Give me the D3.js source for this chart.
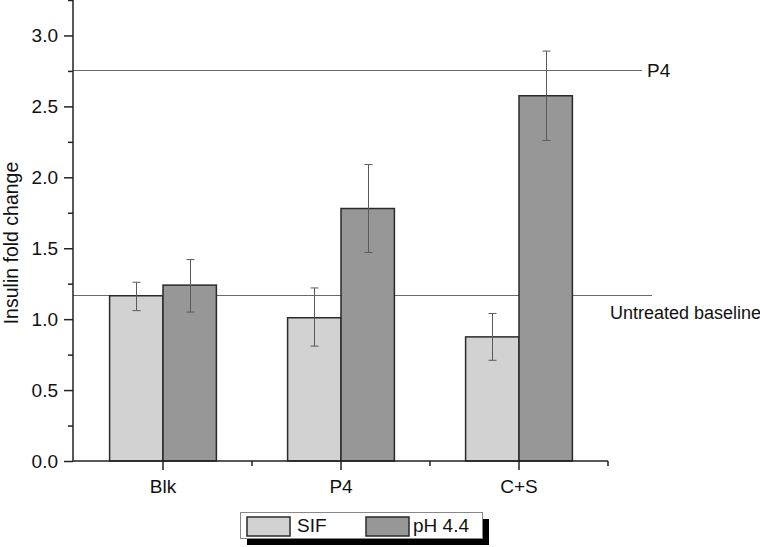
<!DOCTYPE html>
<html><head><meta charset="utf-8">
<script src="https://cdn.jsdelivr.net/npm/d3@7"></script>
<style>body{margin:0;background:#fff}svg{display:block}text{font-family:"Liberation Sans",Arial,sans-serif;fill:#111}</style>
</head><body><svg id="c" width="760" height="547"></svg>
<script>
const categories = ["Blk", "P4", "C+S"];
const seriesNames = ["SIF", "pH 4.4"];
const sifValues = [1.165, 1.01, 0.875];
const sifLow = [1.06, 0.81, 0.71];
const sifHigh = [1.26, 1.22, 1.04];
const phValues = [1.24, 1.78, 2.575];
const phLow = [1.05, 1.47, 2.26];
const phHigh = [1.42, 2.09, 2.89];
const refLines = [{label: "P4", value: 2.76}, {label: "Untreated baseline", value: 1.167}];
const yTicks = [0, 0.5, 1.0, 1.5, 2.0, 2.5, 3.0];
const yMinorTicks = [0.25, 0.75, 1.25, 1.75, 2.25, 2.75, 3.25];
const colors = ["#d2d2d2", "#979797"];

const svg = d3.select("#c");
const y = d3.scaleLinear().domain([0, 3.25]).range([461, 0]);
const x = d3.scaleBand().domain(categories).range([74, 608]).padding(0);
const barW = x.bandwidth() * 0.3;
const axisX = 73;

// reference lines
const refEnd = {"P4": 642, "Untreated baseline": 652};
svg.selectAll(".ref").data(refLines).join("line")
  .attr("x1", axisX).attr("x2", d => refEnd[d.label])
  .attr("y1", d => Math.round(y(d.value)) + 0.5).attr("y2", d => Math.round(y(d.value)) + 0.5)
  .attr("stroke", "#6a6a6a").attr("stroke-width", 1);
svg.append("text").attr("x", 647).attr("y", y(refLines[0].value) + 7)
  .attr("font-size", 19).text(refLines[0].label);
svg.append("text").attr("x", 610).attr("y", y(refLines[1].value) + 23.5)
  .attr("font-size", 18).text(refLines[1].label);

// bars
const series = [
  {vals: sifValues, lo: sifLow, hi: sifHigh, off: -1},
  {vals: phValues, lo: phLow, hi: phHigh, off: 0}
];
series.forEach((s, si) => {
  const g = svg.append("g");
  g.selectAll("rect").data(categories).join("rect")
    .attr("x", (c) => x(c) + x.bandwidth() / 2 + s.off * barW)
    .attr("y", (c, i) => y(s.vals[i]))
    .attr("width", barW)
    .attr("height", (c, i) => y(0) - y(s.vals[i]))
    .attr("fill", colors[si]).attr("stroke", "#2a2a2a").attr("stroke-width", 1.5);
});
series.forEach((s) => {
  const g = svg.append("g").attr("stroke", "#5a5a5a").attr("stroke-width", 1);
  categories.forEach((c, i) => {
    const cx = Math.round(x(c) + x.bandwidth() / 2 + s.off * barW + barW / 2) + 0.5;
    g.append("line").attr("x1", cx).attr("x2", cx).attr("y1", y(s.hi[i])).attr("y2", y(s.lo[i]));
    [s.hi[i], s.lo[i]].forEach(v => {
      g.append("line").attr("x1", cx - 4).attr("x2", cx + 4).attr("y1", y(v)).attr("y2", y(v));
    });
  });
});

// y axis
const yAxis = d3.axisLeft(y).tickValues(yTicks).tickFormat(d3.format(".1f")).tickSize(9).tickPadding(6);
const ya = svg.append("g").attr("transform", `translate(${axisX},0)`).call(yAxis);
ya.select(".domain").attr("stroke", "#222").attr("stroke-width", 1.5).attr("d", `M-0,0V${y(0)}`);
ya.selectAll(".tick line").attr("stroke", "#222").attr("stroke-width", 1.5);
ya.selectAll("text").attr("font-size", 19).attr("fill", "#111").attr("font-family", "Liberation Sans, Arial, sans-serif");
const yMinor = d3.axisLeft(y).tickValues(yMinorTicks).tickFormat("").tickSize(5);
const ym = svg.append("g").attr("transform", `translate(${axisX},0)`).call(yMinor);
ym.select(".domain").remove();
ym.selectAll(".tick line").attr("stroke", "#222").attr("stroke-width", 1.5);

// x axis
const xAxis = d3.axisBottom(x).tickSize(9).tickPadding(10);
const xa = svg.append("g").attr("transform", `translate(0,${y(0)})`).call(xAxis);
xa.select(".domain").attr("stroke", "#222").attr("stroke-width", 1.5).attr("d", `M${axisX},0H608`);
xa.selectAll(".tick line").attr("stroke", "#222").attr("stroke-width", 1.5);
xa.selectAll("text").attr("font-size", 19).attr("fill", "#111").attr("font-family", "Liberation Sans, Arial, sans-serif");
const bounds = categories.slice(1).map(c => x(c)).concat([x.range()[1]]);
svg.append("g").selectAll("line").data(bounds).join("line")
  .attr("x1", d => d).attr("x2", d => d).attr("y1", y(0)).attr("y2", y(0) + 5)
  .attr("stroke", "#222").attr("stroke-width", 1.5);

// y label
svg.append("text").attr("transform", `translate(18,243) rotate(-90)`)
  .attr("text-anchor", "middle").attr("font-size", 19.5).text("Insulin fold change");

// legend
const lg = svg.append("g");
lg.append("rect").attr("x", 247).attr("y", 519).attr("width", 242).attr("height", 26).attr("fill", "#000");
lg.append("rect").attr("x", 240.5).attr("y", 512.5).attr("width", 242).attr("height", 26).attr("fill", "#fff").attr("stroke", "#888").attr("stroke-width", 1);
const lx = [247, 366];
const tx = [297, 413];
seriesNames.forEach((n, i) => {
  lg.append("rect").attr("x", lx[i]).attr("y", 517).attr("width", 43).attr("height", 19)
    .attr("fill", colors[i]).attr("stroke", "#2a2a2a").attr("stroke-width", 1.5);
  lg.append("text").attr("x", tx[i]).attr("y", 532).attr("font-size", 19).text(n);
});
</script></body></html>
